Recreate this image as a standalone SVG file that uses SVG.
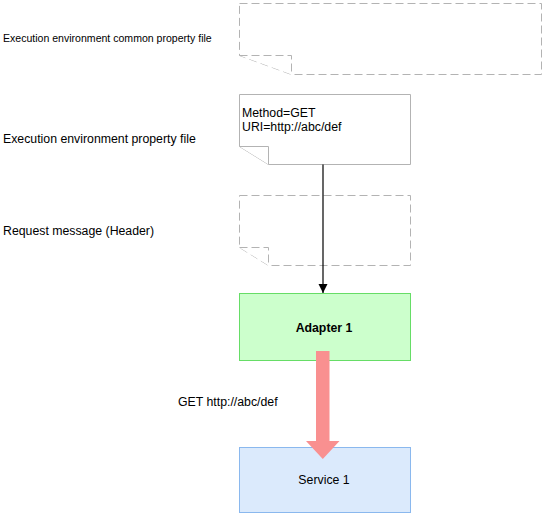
<svg xmlns="http://www.w3.org/2000/svg" width="545" height="516" viewBox="0 0 545 516">
<style>
text{font-family:"Liberation Sans",Arial,sans-serif;fill:#000}
.lbl{font-size:12.3px}
.dash{fill:#fff;stroke:#b3b3b3;stroke-width:1;stroke-dasharray:8,4}
.note{fill:#fff;stroke:#b3b3b3;stroke-width:1}
</style>
<defs>
<marker id="ah" markerWidth="9" markerHeight="11" refX="9" refY="5.5" orient="auto" markerUnits="userSpaceOnUse">
<path d="M0,1 L9,5.5 L0,10 Z" fill="#000"/>
</marker>
</defs>
<rect width="545" height="516" fill="#fff"/>
<g id="lbl-common"><text x="3" y="41.5" style="font-size:10.55px">Execution environment common property file</text></g>
<g id="lbl-env"><text x="3" y="143" class="lbl">Execution environment property file</text></g>
<g id="lbl-req"><text x="3" y="235" class="lbl">Request message (Header)</text></g>
<g id="common-file">
<path class="dash" d="M239.5,3.5 H541.5 V74.5 H291.5 L239.5,55.5 Z"/>
<path class="dash" d="M239.5,55.5 H291.5 V74.5" fill="none"/>
</g>
<g id="env-file">
<path class="note" d="M239.5,94.5 H410.5 V164.5 H268.5 L239.5,146.5 Z"/>
<path class="note" d="M239.5,146.5 H268.5 V164.5" fill="none"/>
<text x="242" y="116.5" class="lbl">Method=GET</text>
<text x="242" y="131" class="lbl">URI=http://abc/def</text>
</g>
<g id="req-header">
<path class="dash" d="M239.5,195.5 H410.5 V265.5 H268.5 L239.5,247.5 Z"/>
<path class="dash" d="M239.5,247.5 H268.5 V265.5" fill="none"/>
</g>
<g id="adapter1">
<rect x="239.5" y="293.5" width="171" height="67" fill="#ccffcc" stroke="#66dd66"/>
<text x="324" y="332" text-anchor="middle" style="font-size:12.3px;font-weight:bold">Adapter 1</text>
</g>
<g id="service1">
<rect x="239.5" y="447.5" width="171" height="65" fill="#dbeafc" stroke="#8ab8ee"/>
<text x="324" y="484" text-anchor="middle" class="lbl">Service 1</text>
</g>
<g id="connectors">
<line x1="323" y1="164.5" x2="323" y2="293" stroke="#000" stroke-width="1.2" marker-end="url(#ah)"/>
<path d="M316,351 H329.5 V441 H339.5 L322.8,459 L306,441 H316 Z" fill="#f99090"/>
<text x="178" y="406" class="lbl">GET http://abc/def</text>
</g>
</svg>
